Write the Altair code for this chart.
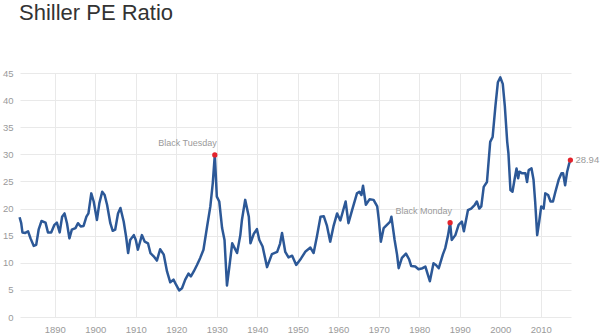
import altair as alt
import pandas as pd

years = [
    1881.3, 1881.7, 1882.0, 1882.7, 1883.4, 1884.0, 1884.8, 1885.4, 1886.0, 1886.7,
    1887.7, 1888.3, 1889.1, 1889.9, 1890.5, 1891.2, 1891.8, 1892.4, 1893.0, 1893.6,
    1894.2, 1895.1, 1895.7, 1896.4, 1897.1, 1897.8, 1898.3, 1899.0, 1899.6, 1900.4,
    1901.0, 1901.7, 1902.3, 1902.9, 1903.7, 1904.3, 1904.9, 1905.6, 1906.2, 1907.0,
    1907.6, 1908.1, 1908.6, 1909.5, 1910.0, 1910.5, 1911.5, 1912.2, 1913.0, 1913.6,
    1914.4, 1915.2, 1916.0, 1916.9, 1917.7, 1918.5, 1919.3, 1919.9, 1920.7, 1921.4,
    1922.2, 1923.0, 1923.6, 1924.3, 1925.1, 1925.9, 1926.7, 1927.6, 1928.4, 1929.0,
    1929.5, 1930.0, 1930.6, 1931.3, 1931.9, 1932.5, 1933.1, 1933.8, 1934.4, 1935.0,
    1935.8, 1936.2, 1937.0, 1937.9, 1938.3, 1939.1, 1939.9, 1940.5, 1941.3, 1942.4,
    1943.6, 1944.9, 1945.6, 1946.1, 1946.9, 1947.7, 1948.6, 1949.6, 1950.8, 1951.9,
    1953.1, 1953.9, 1954.7, 1955.6, 1956.4, 1957.2, 1958.0, 1958.8, 1959.7, 1960.5,
    1961.8, 1962.5, 1963.4, 1964.6, 1965.2, 1965.7, 1966.1, 1966.8, 1967.7, 1968.7,
    1969.6, 1970.0, 1970.5, 1971.2, 1972.0, 1972.8, 1973.1, 1973.9, 1974.5, 1974.9,
    1975.7, 1976.7, 1977.5, 1978.0, 1979.0, 1979.8, 1980.8, 1981.5, 1982.1, 1982.6,
    1983.5, 1984.1, 1984.8, 1985.8, 1986.4, 1987.1, 1987.6, 1988.0, 1988.9, 1989.7,
    1990.5, 1991.0, 1992.0, 1992.8, 1993.7, 1994.2, 1994.8, 1995.3, 1995.9, 1996.7,
    1997.5, 1998.1, 1998.8, 1999.4, 2000.0, 2000.6, 2001.1, 2001.7, 2002.0, 2002.5,
    2003.0, 2003.5, 2004.0, 2004.4, 2004.7, 2005.4, 2006.2, 2006.6, 2007.0, 2007.7,
    2008.2, 2008.6, 2009.1, 2009.6, 2010.1, 2010.7, 2011.1, 2011.8, 2012.4, 2013.0,
    2013.6, 2014.4, 2015.1, 2015.5, 2016.0, 2016.5, 2017.0, 2017.3,
]
pe_values = [
    18.4, 17.3, 15.6, 15.5, 15.8, 14.5, 13.1, 13.3, 16.1, 17.7,
    17.4, 15.6, 15.6, 17.0, 17.4, 15.6, 18.5, 19.1, 17.3, 14.5,
    16.1, 16.4, 17.3, 16.7, 16.8, 18.5, 19.1, 22.8, 21.3, 17.9,
    21.0, 23.1, 22.5, 20.7, 17.3, 15.9, 16.1, 19.1, 20.1, 17.6,
    14.8, 11.8, 14.2, 15.1, 14.2, 12.4, 15.1, 13.9, 13.6, 11.8,
    11.2, 10.4, 12.5, 11.5, 8.4, 6.4, 6.9, 6.0, 4.9, 5.3,
    6.9, 8.0, 7.5, 8.4, 9.6, 10.9, 12.4, 16.7, 20.4, 24.7,
    29.9, 22.2, 21.3, 16.4, 14.2, 5.8, 9.3, 13.6, 12.7, 11.8,
    15.1, 17.9, 21.6, 18.5, 13.6, 15.3, 16.2, 14.2, 13.0, 9.2,
    11.6, 12.0, 13.5, 15.5, 12.0, 11.0, 11.3, 9.6, 10.8, 12.1,
    12.8, 11.8, 14.8, 18.5, 18.6, 16.8, 13.9, 16.7, 19.1, 17.8,
    21.3, 17.3, 19.7, 22.8, 23.1, 22.5, 24.2, 20.7, 21.7, 21.6,
    20.4, 17.9, 13.9, 16.4, 17.0, 17.6, 18.5, 14.2, 11.5, 9.0,
    10.9, 11.7, 10.6, 9.4, 9.3, 8.8, 9.0, 9.3, 7.8, 6.6,
    9.9, 9.6, 9.0, 11.5, 12.7, 15.1, 17.4, 14.2, 15.1, 17.0,
    17.6, 15.8, 19.7, 20.0, 20.7, 21.3, 20.0, 20.4, 24.0, 24.9,
    32.3, 33.2, 39.0, 43.3, 44.2, 43.0, 39.0, 32.3, 30.2, 23.4,
    23.1, 25.3, 27.4, 25.6, 26.8, 26.5, 26.5, 24.9, 27.1, 27.4,
    25.3, 21.3, 15.1, 17.6, 20.4, 20.0, 22.8, 22.5, 21.3, 21.3,
    23.1, 25.3, 26.5, 26.5, 24.3, 26.8, 28.3, 28.94,
]

event_years = [1929.5, 1987.6]
event_values = [29.9, 17.4]
event_labels = ["Black Tuesday", "Black Monday"]

last_year = [2017.3]
last_value = [28.94]
last_label = ["28.94"]

x_ticks = [1890, 1900, 1910, 1920, 1930, 1940, 1950, 1960, 1970, 1980, 1990, 2000, 2010]
y_ticks = [0, 5, 10, 15, 20, 25, 30, 35, 40, 45]

df = pd.DataFrame({"year": years, "pe": pe_values})
ev = pd.DataFrame({"year": event_years, "pe": event_values, "label": event_labels})
lt = pd.DataFrame({"year": last_year, "pe": last_value, "label": last_label})
pts = pd.concat([ev, lt], ignore_index=True)

FONT = "Liberation Sans"
LABEL_COLOR = "#9a9a9a"
GRID = "#e9e9e9"

xscale = alt.Scale(domain=[1881.4, 2017.45], nice=False, zero=False)
yscale = alt.Scale(domain=[0, 45], nice=False)

x_enc = alt.X("year:Q", scale=xscale,
              axis=alt.Axis(values=x_ticks, tickCount=30, format="d", title=None, ticks=False,
                            domain=False, grid=True, gridColor=GRID, labelPadding=7,
                            labelColor=LABEL_COLOR, labelFontSize=9.5, labelFont=FONT))
y_enc = alt.Y("pe:Q", scale=yscale,
              axis=alt.Axis(values=y_ticks, tickCount=30, title=None, ticks=False, domain=False,
                            grid=True, gridColor=GRID, labelPadding=7,
                            labelColor=LABEL_COLOR, labelFontSize=9.5, labelFont=FONT))

line = alt.Chart(df).mark_line(color="#2c5897", strokeWidth=2.5, strokeJoin="round").encode(
    x=x_enc, y=y_enc
)

points = alt.Chart(pts).mark_point(filled=True, color="#e3232c", size=28, opacity=1).encode(
    x=alt.X("year:Q", scale=xscale), y=alt.Y("pe:Q", scale=yscale)
)

event_text = alt.Chart(ev).mark_text(align="right", baseline="middle", dx=2, dy=-12,
                                     font=FONT, fontSize=9, color=LABEL_COLOR).encode(
    x=alt.X("year:Q", scale=xscale), y=alt.Y("pe:Q", scale=yscale), text="label:N"
)

last_text = alt.Chart(lt).mark_text(align="left", baseline="middle", dx=5, dy=0,
                                    font=FONT, fontSize=9.5, color=LABEL_COLOR).encode(
    x=alt.X("year:Q", scale=xscale), y=alt.Y("pe:Q", scale=yscale), text="label:N"
)

chart = alt.layer(line, points, event_text, last_text).properties(
    width=551,
    height=244,
    autosize=alt.AutoSizeParams(type="none"),
    padding={"left": 20, "top": 73, "right": 29, "bottom": 18},
    title=alt.TitleParams("Shiller PE Ratio", anchor="start", frame="group",
                          font=FONT, fontSize=22, fontWeight="normal", color="#333333",
                          baseline="alphabetic", offset=26, dx=-1),
    background="white",
).configure_view(stroke=None)

chart.save("out.html", embed_options={"renderer": "svg", "actions": False})
